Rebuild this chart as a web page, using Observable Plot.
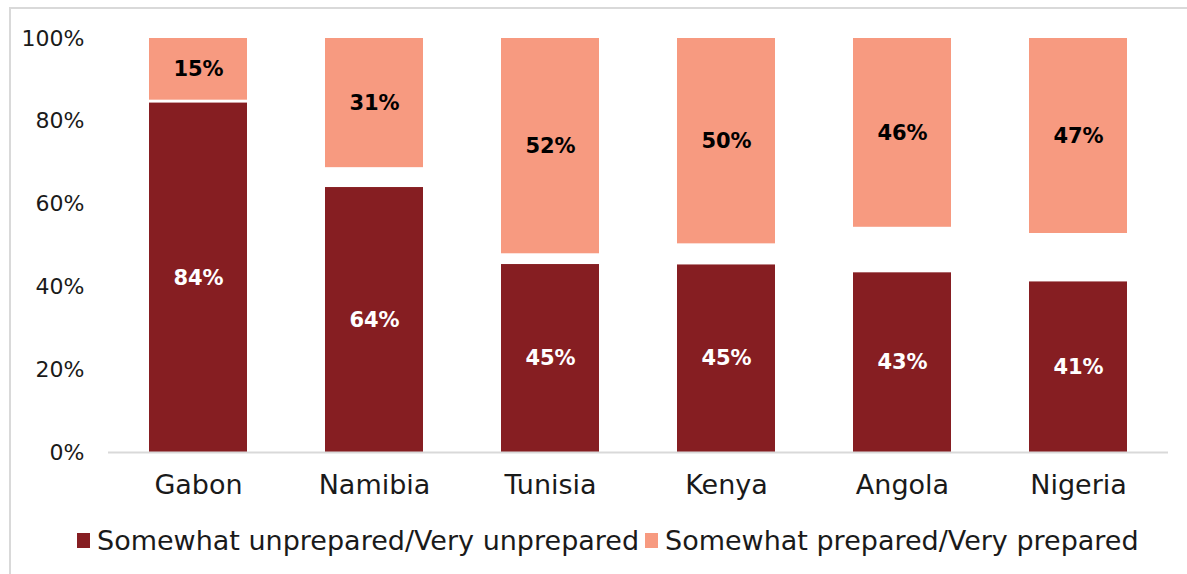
<!DOCTYPE html>
<html>
<head>
<meta charset="utf-8">
<script src="https://cdn.jsdelivr.net/npm/d3@7"></script>
<script src="https://cdn.jsdelivr.net/npm/@observablehq/plot@0.6"></script>
<style>
  html, body { margin: 0; padding: 0; background: #fff; overflow: hidden; }
  #wrap { position: relative; width: 1187px; height: 574px; font-family: "DejaVu Sans", sans-serif; }
  #frame { position: absolute; left: 9px; top: 7px; width: 1200px; height: 600px; border: 2px solid #d9d9d9; box-sizing: border-box; }
  #chart { position: absolute; left: 0; top: 0; }
  #legend { position: absolute; top: 523px; left: 0; width: 1187px; height: 34px; font-size: 27px; color: #1a1a1a; }
  .item { position: absolute; top: 0; display: flex; align-items: center; height: 34px; white-space: nowrap; }
  .sw { width: 13px; height: 15px; margin-right: 7px; }
</style>
</head>
<body>
<div id="wrap">
  <div id="frame"></div>
  <div id="chart"></div>
  <div id="legend"></div>
</div>
<script>
const countries = ["Gabon", "Namibia", "Tunisia", "Kenya", "Angola", "Nigeria"];
const unprepared = [84.4, 64, 45.4, 45.3, 43.4, 41.2];
const prepared = [14.9, 31.2, 52, 49.6, 45.6, 47.1];
const seriesNames = ["Somewhat unprepared/Very unprepared", "Somewhat prepared/Very prepared"];
const colors = ["#861E22", "#F79A80"];
const yTicks = [0, 20, 40, 60, 80, 100];

const unprepRows = countries.map((c, i) => ({country: c, y1: 0, y2: unprepared[i], v: unprepared[i]}));
const prepRows = countries.map((c, i) => ({country: c, y1: 100 - prepared[i], y2: 100, v: prepared[i]}));

const chart = Plot.plot({
  width: 1187,
  height: 500,
  marginTop: 38,
  marginBottom: 48,
  marginLeft: 108,
  marginRight: 19,
  style: {fontFamily: "DejaVu Sans, sans-serif", background: "transparent", color: "#1a1a1a"},
  x: {domain: countries, paddingInner: 0.445, paddingOuter: 0.2225, label: null},
  y: {domain: [0, 100], label: null},
  marks: [
    Plot.barY(unprepRows, {x: "country", y1: "y1", y2: "y2", fill: colors[0]}),
    Plot.barY(prepRows, {x: "country", y1: "y1", y2: "y2", fill: colors[1]}),
    Plot.ruleY([0], {stroke: "#d9d9d9", strokeWidth: 2}),
    Plot.text(unprepRows, {x: "country", y: d => (d.y1 + d.y2) / 2, text: d => Math.round(d.v) + "%", fill: "white", fontWeight: "bold", fontSize: 21}),
    Plot.text(prepRows, {x: "country", y: d => (d.y1 + d.y2) / 2, text: d => Math.round(d.v) + "%", fill: "black", fontWeight: "bold", fontSize: 21}),
    Plot.axisX({tickSize: 0, tickPadding: 22, fontSize: 27, label: null}),
    Plot.axisY({ticks: yTicks, tickFormat: d => d + "%", tickSize: 0, tickPadding: 24, fontSize: 22, label: null})
  ]
});
document.getElementById("chart").appendChild(chart);

const legend = document.getElementById("legend");
const lefts = [77, 645];
seriesNames.forEach((name, i) => {
  const item = document.createElement("div");
  item.className = "item";
  item.style.left = lefts[i] + "px";
  const sw = document.createElement("span");
  sw.className = "sw";
  sw.style.background = colors[i];
  const t = document.createElement("span");
  t.textContent = name;
  item.appendChild(sw);
  item.appendChild(t);
  legend.appendChild(item);
});
</script>
</body>
</html>
